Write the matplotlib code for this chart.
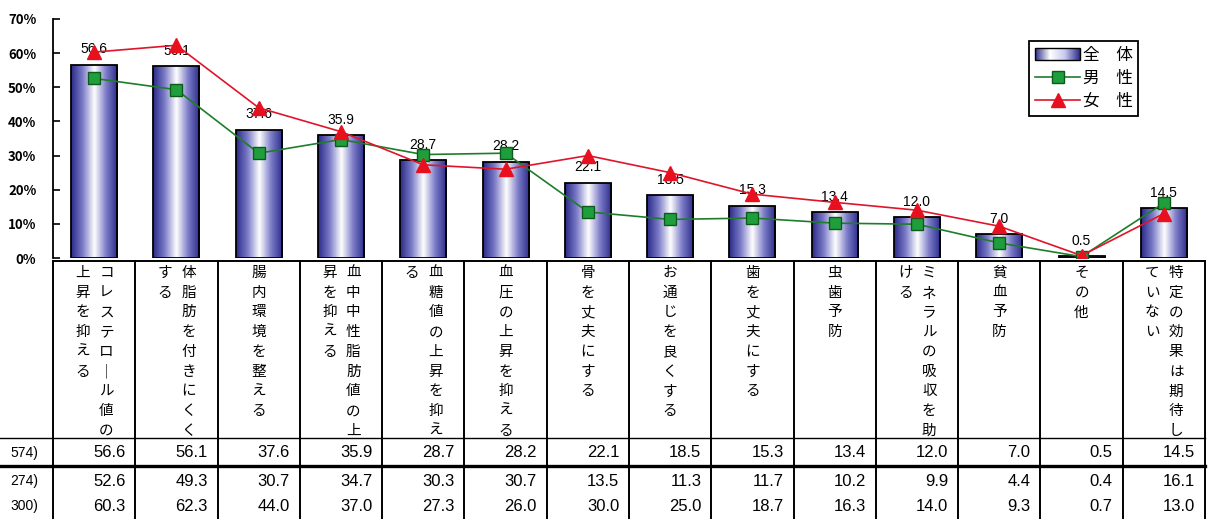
import matplotlib
matplotlib.use("Agg")
from matplotlib import pyplot as plt
from matplotlib.colors import LinearSegmentedColormap
from matplotlib.legend_handler import HandlerPatch
from matplotlib.image import BboxImage
from matplotlib.transforms import Bbox, TransformedBbox
from matplotlib.patches import Rectangle, Patch
from matplotlib.lines import Line2D
import numpy as np

plt.rcParams['font.family'] = ['Noto Sans CJK JP', 'DejaVu Sans']

labels = [
    ["コレステロ｜ル値の", "上昇を抑える"],
    ["体脂肪を付きにくく", "する"],
    ["腸内環境を整える"],
    ["血中中性脂肪値の上", "昇を抑える"],
    ["血糖値の上昇を抑え", "る"],
    ["血圧の上昇を抑える"],
    ["骨を丈夫にする"],
    ["お通じを良くする"],
    ["歯を丈夫にする"],
    ["虫歯予防"],
    ["ミネラルの吸収を助", "ける"],
    ["貧血予防"],
    ["その他"],
    ["特定の効果は期待し", "ていない"],
]
total = [56.6, 56.1, 37.6, 35.9, 28.7, 28.2, 22.1, 18.5, 15.3, 13.4, 12.0, 7.0, 0.5, 14.5]
male = [52.6, 49.3, 30.7, 34.7, 30.3, 30.7, 13.5, 11.3, 11.7, 10.2, 9.9, 4.4, 0.4, 16.1]
female = [60.3, 62.3, 44.0, 37.0, 27.3, 26.0, 30.0, 25.0, 18.7, 16.3, 14.0, 9.3, 0.7, 13.0]
row_names = ["574)", "274)", "300)"]
series_names = ["全　体", "男　性", "女　性"]

W, H = 1213, 519
fig = plt.figure(figsize=(W / 100, H / 100), dpi=100)
ax = fig.add_axes([53 / W, 261 / H, 1152 / W, 239 / H])

x = np.arange(len(total))
navy = "#2a2a88"
cmap = LinearSegmentedColormap.from_list("bar", [navy, "#7c7cc8", "#ffffff", "#7c7cc8", navy])
grad = np.linspace(0, 1, 256).reshape(1, -1)

bars = ax.bar(x, total, width=0.56, color="none", edgecolor="black", linewidth=1.3, zorder=3)
for b in bars:
    x0, y0 = b.get_x(), b.get_y()
    im = ax.imshow(grad, cmap=cmap, aspect="auto", interpolation="bicubic",
                   extent=[x0, x0 + b.get_width(), y0, y0 + b.get_height()], zorder=2)
    im.set_clip_path(b)

ax.plot(x, male, color="#1e7d2a", lw=1.2, marker="s", ms=9, mfc="#1f9e3c", mec="#0d5a1c", zorder=5)
ax.plot(x, female, color="#e0142a", lw=1.2, marker="^", ms=10, mfc="#e8101e", mec="#e8101e", zorder=6)

for xi, v in zip(x, total):
    ax.annotate(f"{v:.1f}", (xi, v), xytext=(0, 6), textcoords="offset points",
                ha="center", va="bottom", fontsize=10, family="Liberation Sans", zorder=4)

ax.set_xlim(-0.5, len(total) - 0.5)
ax.set_ylim(0, 70)
ax.set_yticks(np.arange(0, 71, 10))
ax.set_yticklabels([f"{t}%" for t in range(0, 71, 10)], fontsize=9.5, fontweight="bold")
ax.tick_params(axis="y", direction="in", length=5, width=1.2, pad=12)
ax.set_xticks([])
for s in ["top", "right", "bottom"]:
    ax.spines[s].set_visible(False)
ax.spines["left"].set_linewidth(1.3)


class GradHandler(HandlerPatch):
    def create_artists(self, legend, orig_handle, xdescent, ydescent, width, height, fontsize, trans):
        bb = TransformedBbox(Bbox.from_bounds(-xdescent, -ydescent, width, height), trans)
        img = BboxImage(bb, cmap=LinearSegmentedColormap.from_list("lg", [navy, "#ffffff", "#c8c8f0", navy]),
                        interpolation="bicubic")
        img.set_data(grad)
        rect = Rectangle((-xdescent, -ydescent), width, height, fill=False, edgecolor="black",
                         lw=1, transform=trans)
        return [img, rect]


handles = [
    Patch(facecolor=navy, edgecolor="black"),
    Line2D([], [], color="#1e7d2a", lw=1.2, marker="s", ms=9, mfc="#1f9e3c", mec="#0d5a1c"),
    Line2D([], [], color="#e0142a", lw=1.2, marker="^", ms=10, mfc="#e8101e", mec="#e8101e"),
]
leg = fig.legend(handles, series_names, loc="upper left", bbox_to_anchor=(1021 / W, 1 - 33 / H),
                 bbox_transform=fig.transFigure, fontsize=12, fancybox=False, framealpha=1,
                 edgecolor="black", handlelength=2.7, handletextpad=0.15, labelspacing=0.35,
                 borderpad=0.35, handler_map={Patch: GradHandler()})
leg.get_frame().set_linewidth(1.3)

# table under the chart, y in pixels from the top of the picture
tb = fig.add_axes([53 / W, 0, 1152 / W, 258 / H])
tb.set_xlim(-0.5, len(total) - 0.5)
tb.set_ylim(H, 258)
tb.axis("off")

for b in np.arange(len(total) + 1) - 0.5:
    tb.plot([b, b], [258, H], color="black", lw=1.4, clip_on=False)
tb.plot([-0.5, len(total) - 0.5], [258, 258], color="black", lw=1.4, clip_on=False)
tb.axhline(437, xmin=-53 / 1152, xmax=1, color="black", lw=1.0, clip_on=False)
tb.axhline(465, xmin=-53 / 1152, xmax=1, color="black", lw=2.4, clip_on=False)

for i, cols in enumerate(labels):
    offs = [0.0] if len(cols) == 1 else [0.15, -0.14]
    for off, col in zip(offs, cols):
        for k, ch in enumerate(col):
            tb.text(i + off, 270 + 20 * k, ch, ha="center", va="center", fontsize=10.5)

for i, row in enumerate([total, male, female]):
    ry = [452, 481, 506][i]
    for xi, v in zip(x, row):
        tb.text(xi + 0.38, ry, f"{v:.1f}", ha="right", va="center", fontsize=12,
                family="Liberation Sans")
    tb.text(-0.5 - 15 / 82.3, ry, row_names[i], ha="right", va="center", fontsize=10,
            family="Liberation Sans", clip_on=False)

fig.savefig("out.png", dpi=100)
